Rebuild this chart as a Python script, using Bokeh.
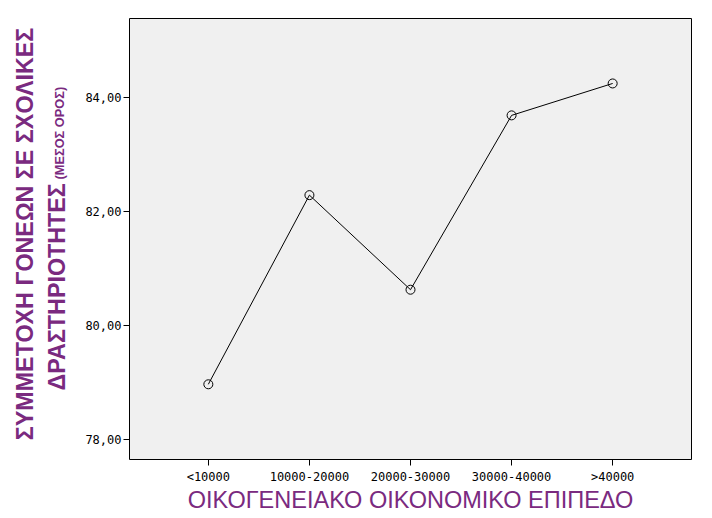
import math
from bokeh.plotting import figure
from bokeh.layouts import row
from bokeh.models import FixedTicker, Label, Range1d
from bokeh.embed import file_html
from bokeh.resources import INLINE

categories = ["<10000", "10000-20000", "20000-30000", "30000-40000", ">40000"]
mean_values = [78.97, 82.29, 80.63, 83.69, 84.25]
y_ticks = [78, 80, 82, 84]
y_tick_labels = ["78,00", "80,00", "82,00", "84,00"]
x_title = "ΟΙΚΟΓΕΝΕΙΑΚΟ ΟΙΚΟΝΟΜΙΚΟ ΕΠΙΠΕΔΟ"
y_title_1 = "ΣΥΜΜΕΤΟΧΗ ΓΟΝΕΩΝ ΣΕ ΣΧΟΛΙΚΕΣ"
y_title_2 = "ΔΡΑΣΤΗΡΙΟΤΗΤΕΣ"
y_title_note = "(ΜΕΣΟΣ ΟΡΟΣ)"

PURPLE = "#7a2a7f"
H = 516
TOP, BOTTOM = 18, 57
LEFT_W = 80
Y0, Y1 = 77.65, 85.39
FH = H - TOP - BOTTOM
xs = list(range(1, len(categories) + 1))


def py2y(py):
    """page pixel row -> y data value (for placing title texts)"""
    return Y1 - (py - TOP) / FH * (Y1 - Y0)


yr = Range1d(Y0, Y1)

# ---- main chart ----
p = figure(width=624, height=H, output_backend="svg", toolbar_location=None,
           x_range=Range1d(0.22, 5.78), y_range=yr,
           min_border_left=49, min_border_right=13, min_border_top=TOP,
           min_border_bottom=BOTTOM)

p.background_fill_color = "#f0f0f0"
p.border_fill_color = "white"
p.outline_line_color = "black"
p.outline_line_width = 1
p.xgrid.visible = False
p.ygrid.visible = False

p.line(xs, mean_values, line_color="black", line_width=1)
p.scatter(xs, mean_values, marker="circle", size=9, fill_color=None,
          line_color="black", line_width=1)

p.xaxis.ticker = FixedTicker(ticks=xs)
p.xaxis.major_label_overrides = {x: c for x, c in zip(xs, categories)}
p.yaxis.ticker = FixedTicker(ticks=y_ticks)
p.yaxis.major_label_overrides = {t: l for t, l in zip(y_ticks, y_tick_labels)}

for ax in (p.xaxis[0], p.yaxis[0]):
    ax.axis_line_color = None
    ax.major_tick_line_color = "black"
    ax.major_tick_in = 0
    ax.major_tick_out = 6
    ax.minor_tick_line_color = None
    ax.major_label_text_font = "DejaVu Sans Mono"
    ax.major_label_text_font_size = "12px"
    ax.major_label_text_color = "black"
p.xaxis.major_label_standoff = 4
p.yaxis.major_label_standoff = 2

p.xaxis.axis_label = x_title
p.xaxis.axis_label_text_font = "Liberation Sans"
p.xaxis.axis_label_text_font_size = "23.5px"
p.xaxis.axis_label_text_font_style = "normal"
p.xaxis.axis_label_text_color = PURPLE
p.xaxis.axis_label_standoff = 0

# ---- left panel holding the two-line y title ----
t = figure(width=LEFT_W, height=H, output_backend="svg", toolbar_location=None,
           x_range=Range1d(0, LEFT_W), y_range=yr,
           x_axis_type=None, y_axis_type=None,
           min_border_left=0, min_border_right=0, min_border_top=TOP,
           min_border_bottom=BOTTOM)
t.outline_line_color = None
t.background_fill_color = "white"
t.border_fill_color = "white"
t.xgrid.visible = False
t.ygrid.visible = False

common = dict(angle=math.pi / 2, text_baseline="alphabetic", text_color=PURPLE,
              text_font="Liberation Sans", text_font_style="bold")
t.add_layout(Label(x=24, y=py2y(233.5), text=y_title_1, text_align="center",
                   text_font_size="23.3px", **common))
t.add_layout(Label(x=56, y=py2y(390), text=y_title_2, text_align="left",
                   text_font_size="23.3px", **common))
t.add_layout(Label(x=59, y=py2y(179), text=y_title_note, text_align="left",
                   text_font_size="12.8px", **common))

layout = row(t, p)
open("out.html", "w").write(file_html(layout, INLINE))
